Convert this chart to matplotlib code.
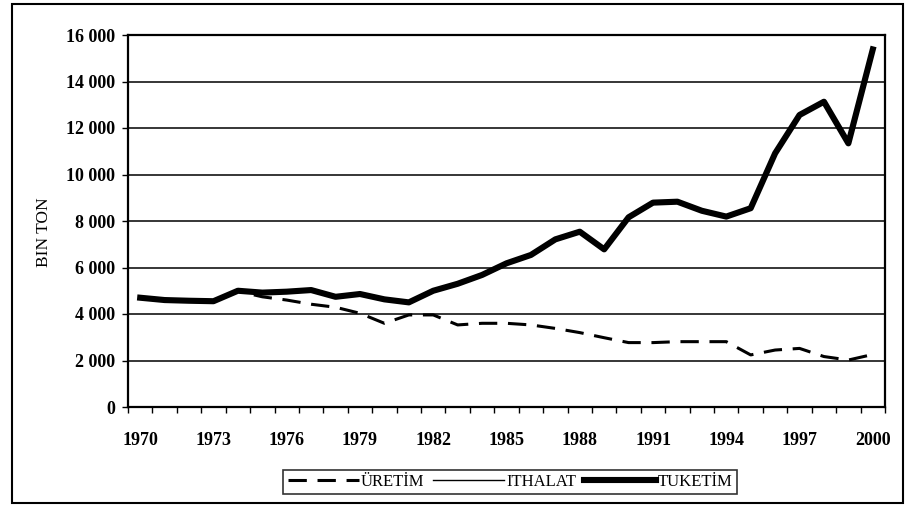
import matplotlib
matplotlib.use("Agg")
import matplotlib.pyplot as plt
from matplotlib.patches import Rectangle
import numpy as np

years = list(range(1970, 2001))
uretim = [4700, 4600, 4570, 4550, 4980, 4740, 4600, 4420, 4290, 4030,
          3600, 3960, 3960, 3530, 3600, 3600, 3530, 3380, 3200, 2980,
          2770, 2770, 2810, 2810, 2810, 2240, 2450, 2520, 2170, 2020, 2260]
ithalat = [0] * 31
tuketim = [4700, 4600, 4570, 4550, 5000, 4920, 4960, 5030, 4740, 4860,
           4630, 4500, 5000, 5300, 5680, 6180, 6540, 7210, 7540, 6780,
           8160, 8790, 8830, 8440, 8190, 8550, 10910, 12560, 13130, 11340, 15380]
yticks = [0, 2000, 4000, 6000, 8000, 10000, 12000, 14000, 16000]
ytick_labels = ["0", "2 000", "4 000", "6 000", "8 000", "10 000", "12 000", "14 000", "16 000"]
xtick_years = list(range(1970, 2001, 3))
legend_labels = ["ÜRETİM", "ITHALAT", "TUKETİM"]

plt.rcParams['font.family'] = ['Liberation Serif', 'DejaVu Serif']

fig = plt.figure(figsize=(9.1, 5.07), dpi=100)
ax = fig.add_axes([128/910, 1-407/507, (885-128)/910, (407-35)/507])

x = np.arange(len(years))
l1, = ax.plot(x, uretim, color='black', lw=2.2, ls=(0, (6, 3.5)), label=legend_labels[0], zorder=3)
l2, = ax.plot(x, ithalat, color='black', lw=1.0, label=legend_labels[1], zorder=3)
l3, = ax.plot(x, tuketim, color='black', lw=4.4, label=legend_labels[2], zorder=4,
              solid_joinstyle='round')

ax.set_xlim(-0.5, len(years) - 0.5)
ax.set_ylim(0, 16000)
ax.set_yticks(yticks)
ax.set_yticklabels(ytick_labels, fontsize=13, fontweight='bold')
ax.yaxis.grid(True, color='black', lw=1.1)
ax.set_axisbelow(True)

xt = [years.index(y) for y in xtick_years]
ax.set_xticks(xt)
ax.set_xticklabels([str(y) for y in xtick_years], fontsize=13, fontweight='bold')
ax.set_xticks(np.arange(-0.5, len(years), 1.0), minor=True)
ax.tick_params(axis='x', which='major', length=0, pad=18)
ax.tick_params(axis='x', which='minor', length=4, width=1, direction='out')
ax.tick_params(axis='y', which='major', length=4, width=1, direction='out', pad=5)

for s in ax.spines.values():
    s.set_linewidth(1.6)
    s.set_color('black')

ax.set_ylabel("BIN TON", fontsize=12.5)
ax.yaxis.set_label_coords(-0.100, 0.47)

leg = fig.legend(handles=[l1, l2, l3], labels=legend_labels, loc='center',
                 bbox_to_anchor=(510/910, 1-482/507), ncol=3, frameon=True,
                 fancybox=False, edgecolor='black', handlelength=4.3,
                 handletextpad=0.1, columnspacing=0.5, borderpad=0.25,
                 prop={'size': 12})
leg.get_frame().set_linewidth(1.2)

fig.patches.append(Rectangle((12/910, 4/507), (903-12)/910, (503-4)/507,
                             transform=fig.transFigure, fill=False,
                             edgecolor='black', lw=1.5))

fig.savefig("out.png", dpi=100)
